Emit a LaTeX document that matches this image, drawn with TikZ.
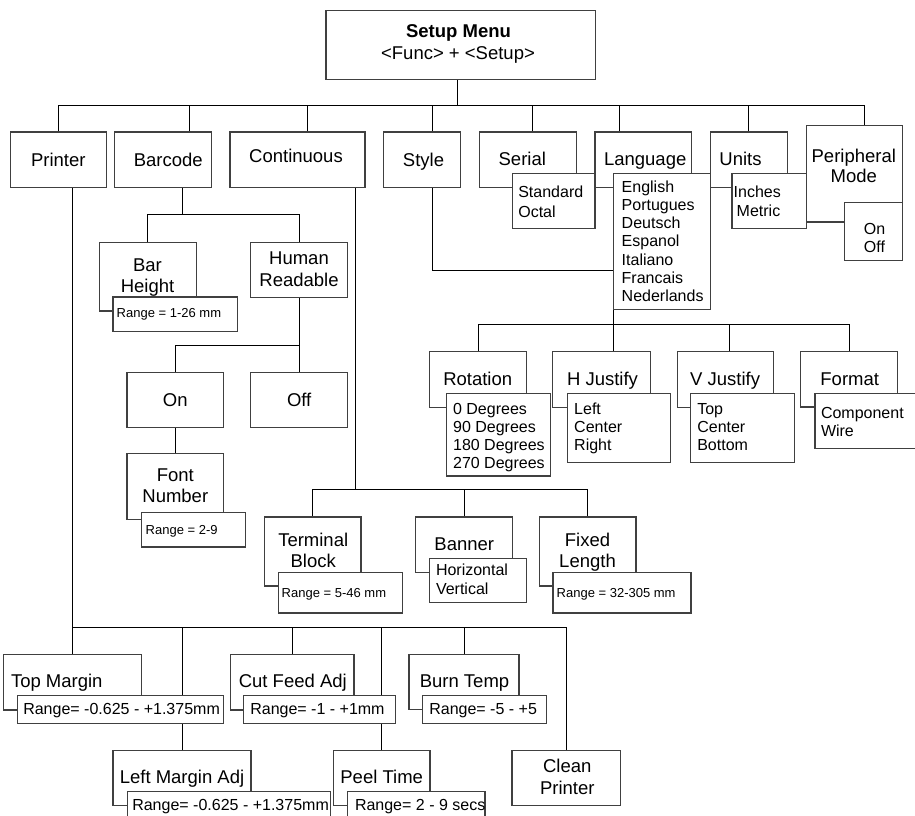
\documentclass[tikz,border=0pt]{standalone}
\usepackage{fontspec}
\setmainfont{Liberation Sans}
\usetikzlibrary{calc}
\pgfdeclarelayer{bg}
\pgfsetlayers{bg,main}
\definecolor{boxc}{HTML}{404040}
\tikzset{
 box/.style={draw=boxc, line width=1.1pt, fill=white, anchor=north west, inner sep=0pt, outer sep=0pt},
 conn/.style={draw=black, line width=1pt},
 lbl/.style={inner sep=0pt, outer sep=0pt},
 big/.style={font=\fontsize{18.5}{21.5}\selectfont},
 bigb/.style={font=\fontsize{18.5}{21.5}\selectfont\bfseries},
 mid/.style={font=\fontsize{16}{18}\selectfont},
 sml/.style={font=\fontsize{13}{15}\selectfont},
}
\newcommand\bx[5]{\node[box, minimum width={(#4-#2)*1pt}, minimum height={(#5-#3)*1pt}] (#1) at (#2,#3) {};}
\newcommand\ct[5]{\node[lbl,#1,anchor=base] (#2) at (#3,#4) {#5};}
\newcommand\lt[5]{\node[lbl,#1,anchor=base west] (#2) at (#3,#4) {#5};}
\begin{document}
\begin{tikzpicture}[x=1pt,y=-1pt]
\useasboundingbox (0,0) rectangle (915,816);
\clip (0,0) rectangle (915,816);
% ---------- boxes ----------
\bx{setup}{326}{10.3}{595.7}{79.7}
\bx{printer}{10.3}{132}{106.7}{187.3}
\bx{barcode}{114.7}{132}{211.3}{187.3}
\bx{continuous}{230}{132}{365}{187.3}
\bx{style}{383.3}{132}{460.3}{187.3}
\bx{serial}{479.7}{132}{576.3}{187.3}
\bx{serialsub}{512.3}{173.3}{595}{228.7}
\bx{language}{595}{132}{691.3}{187.3}
\bx{langsub}{613.7}{173.3}{710.3}{309.3}
\bx{units}{710.3}{132}{787.3}{187.3}
\bx{unitsub}{732}{173.3}{806.3}{228.7}
\bx{periph}{806.3}{125.7}{902.5}{222}
\bx{periphsub}{844.5}{202.5}{902.5}{260.3}
\bx{barheight}{99.5}{242.3}{196.3}{311}
\bx{barrange}{113}{297}{237.7}{331.5}
\bx{human}{250.3}{242.3}{347.7}{297.3}
\bx{on}{127}{372.7}{223.3}{427.7}
\bx{off}{250.3}{372.7}{347.7}{427.7}
\bx{fontnum}{127}{453.7}{223.3}{519.3}
\bx{fontrange}{141.7}{512.3}{245.7}{547}
\bx{rotation}{429.7}{351.7}{526.4}{407.3}
\bx{rotsub}{446.7}{393.3}{550.4}{476}
\bx{hjust}{552.9}{351.7}{650.3}{407.3}
\bx{hjsub}{567.1}{393.3}{670.8}{462.3}
\bx{vjust}{677.2}{351.7}{773.5}{407.3}
\bx{vjsub}{690.6}{393.3}{794.3}{462.3}
\bx{format}{800.7}{351.7}{897.3}{407}
\bx{fmtsub}{815}{393.3}{920}{448.5}
\bx{termblock}{264.7}{517}{361}{586}
\bx{termrange}{278.3}{572.3}{402.3}{613}
\bx{banner}{415.7}{517}{512.3}{572.3}
\bx{bannersub}{429.7}{558.3}{526.3}{602.3}
\bx{fixed}{539.3}{517}{636}{586}
\bx{fixedrange}{553}{572.3}{691}{613}
\bx{topmargin}{3.3}{654.3}{141.3}{710}
\bx{tmrange}{17.3}{695.3}{223.3}{723.3}
\bx{cutfeed}{230.3}{654.3}{354}{710}
\bx{cfrange}{243.7}{695.3}{395.7}{723.3}
\bx{burn}{409}{654.3}{519}{709.5}
\bx{burnrange}{422.7}{695.3}{546.7}{723.2}
\bx{leftmargin}{113}{750.3}{251}{805.7}
\bx{lmrange}{127.3}{791.7}{330.7}{822}
\bx{peel}{333.3}{750.3}{430}{805.7}
\bx{peelrange}{347.7}{791.7}{485}{822}
\bx{clean}{512}{750.3}{620.5}{805.7}
% ---------- connectors (behind boxes) ----------
\begin{pgfonlayer}{bg}
\coordinate (s0) at (457.3,105);
\draw[conn] (s0 |- setup.south) -- (s0);
\coordinate (bL) at (58,105);
\coordinate (bR) at (864,105);
\draw[conn] (bL) -- (bR);
\foreach \n/\x in {printer/58, barcode/189, continuous/307, style/432, serial/532.7, language/619.3, units/748.3, periph/864}
  {\coordinate (d\n) at (\x,105); \draw[conn] (d\n) -- (d\n |- \n.north);}
% barcode subtree
\coordinate (bc) at (182.3,214.7);
\draw[conn] (bc |- barcode.south) -- (bc);
\draw[conn] (barheight.north) -- (barheight.north |- bc) -- (human.north |- bc) -- (human.north);
\coordinate (hr) at (299,345.3);
\draw[conn] (human.south) -- (human.south |- hr);
\draw[conn] (on.north) -- (on.north |- hr) -- (off.north |- hr) -- (off.north);
\draw[conn] (on.south) -- (fontnum.north);
% style to language list
\coordinate (sy) at (432,270);
\draw[conn] (sy |- style.south) -- (sy) -- (sy -| langsub.west);
% language list to formatting options
\draw[conn] (langsub.south west) -- (langsub.south west |- hjust.north);
\coordinate (rb) at (600,324.5);
\draw[conn] (rotation.north) -- (rotation.north |- rb) -- (format.north |- rb) -- (format.north);
\coordinate (vjd) at (729.2,324.5);
\draw[conn] (vjd) -- (vjd |- vjust.north);
% continuous subtree
\coordinate (cb) at (355.3,489.5);
\draw[conn] (cb |- continuous.south) -- (cb);
\draw[conn] (termblock.north) -- (termblock.north |- cb) -- (fixed.north |- cb) -- (fixed.north);
\draw[conn] (banner.north) -- (banner.north |- cb);
% printer subtree
\coordinate (pb) at (72,627);
\draw[conn] (pb |- printer.south) -- (pb |- topmargin.north);
\draw[conn] (pb) -- (clean.north |- pb) -- (clean.north);
\foreach \n in {leftmargin,cutfeed,peel,burn}
  {\draw[conn] (\n.north |- pb) -- (\n.north);}
\end{pgfonlayer}
% ---------- texts ----------
\ct{bigb}{tSetupA}{458.5}{37.7}{Setup Menu}
\ct{big}{tSetupB}{458}{59.3}{<Func> + <Setup>}
\ct{big}{tPrinter}{58.3}{166.7}{Printer}
\ct{big}{tBarcode}{168.3}{166.7}{Barcode}
\ct{big}{tContinuous}{296}{162.3}{Continuous}
\ct{big}{tStyle}{423.5}{166.7}{Style}
\ct{big}{tSerial}{522.3}{165.7}{Serial}
\ct{big}{tLanguage}{645.2}{165.7}{Language}
\ct{big}{tUnits}{740.5}{165.7}{Units}
\ct{big}{tPeriphA}{853.8}{162.3}{Peripheral}
\ct{big}{tPeriphB}{853.8}{182.7}{Mode}
\lt{mid}{tStd}{518.3}{197.7}{Standard}
\lt{mid}{tOctal}{518.3}{217}{Octal}
\lt{mid}{tL1}{621.7}{192.3}{English}
\lt{mid}{tL2}{621.7}{210.5}{Portugues}
\lt{mid}{tL3}{621.7}{228.7}{Deutsch}
\lt{mid}{tL4}{621.7}{246.9}{Espanol}
\lt{mid}{tL5}{621.7}{265.1}{Italiano}
\lt{mid}{tL6}{621.7}{283.3}{Francais}
\lt{mid}{tL7}{621.7}{301.5}{Nederlands}
\lt{mid}{tInches}{733.7}{197.3}{Inches}
\lt{mid}{tMetric}{736.7}{216}{Metric}
\ct{mid}{tPOn}{874.5}{234}{On}
\ct{mid}{tPOff}{874.5}{252.3}{Off}
\ct{big}{tBarA}{147.5}{271}{Bar}
\ct{big}{tBarB}{147.5}{292.3}{Height}
\lt{sml}{tBarR}{116.7}{317.3}{Range = 1-26 mm}
\ct{big}{tHumA}{299}{264.7}{Human}
\ct{big}{tHumB}{299}{286.7}{Readable}
\ct{big}{tOn}{175.3}{406}{On}
\ct{big}{tOff}{299.2}{406}{Off}
\ct{big}{tFontA}{175.3}{481}{Font}
\ct{big}{tFontB}{175.3}{502.7}{Number}
\lt{sml}{tFontR}{145.7}{534}{Range = 2-9}
\ct{big}{tRot}{477.7}{385.7}{Rotation}
\lt{mid}{tR1}{453.1}{414}{0 Degrees}
\lt{mid}{tR2}{453.1}{432.2}{90 Degrees}
\lt{mid}{tR3}{453.1}{450.4}{180 Degrees}
\lt{mid}{tR4}{453.1}{468.6}{270 Degrees}
\ct{big}{tHJ}{602.5}{385.7}{H Justify}
\lt{mid}{tH1}{574.2}{414}{Left}
\lt{mid}{tH2}{574.2}{432.2}{Center}
\lt{mid}{tH3}{574.2}{450.4}{Right}
\ct{big}{tVJ}{725.1}{385.7}{V Justify}
\lt{mid}{tV1}{697.3}{414}{Top}
\lt{mid}{tV2}{697.3}{432.2}{Center}
\lt{mid}{tV3}{697.3}{450.4}{Bottom}
\ct{big}{tFmt}{849.7}{385.7}{Format}
\lt{mid}{tF1}{821}{418}{Component}
\lt{mid}{tF2}{821}{436}{Wire}
\ct{big}{tTermA}{313.2}{546}{Terminal}
\ct{big}{tTermB}{313.2}{567.3}{Block}
\lt{sml}{tTermR}{281.7}{597}{Range = 5-46 mm}
\ct{big}{tBanner}{464.3}{550}{Banner}
\lt{mid}{tHor}{436}{575.7}{Horizontal}
\lt{mid}{tVer}{436}{594.3}{Vertical}
\ct{big}{tFixA}{587.5}{546}{Fixed}
\ct{big}{tFixB}{587.5}{567.3}{Length}
\lt{sml}{tFixR}{556.7}{597}{Range = 32-305 mm}
\lt{big}{tTop}{11}{687.7}{Top Margin}
\lt{mid}{tTopR}{23.3}{714}{Range= -0.625 - +1.375mm}
\ct{big}{tCut}{292.8}{687.7}{Cut Feed Adj}
\lt{mid}{tCutR}{250.3}{714}{Range= -1 - +1mm}
\ct{big}{tBurn}{464.5}{687.7}{Burn Temp}
\lt{mid}{tBurnR}{429.3}{714}{Range= -5 - +5}
\ct{big}{tLeft}{182}{783.3}{Left Margin Adj}
\lt{mid}{tLeftR}{132.3}{810.5}{Range= -0.625 - +1.375mm}
\ct{big}{tPeel}{381.7}{783.3}{Peel Time}
\lt{mid}{tPeelR}{355}{810.5}{Range= 2 - 9 secs}
\ct{big}{tCleanA}{567.3}{772.3}{Clean}
\ct{big}{tCleanB}{567.3}{794}{Printer}
\end{tikzpicture}
\end{document}
